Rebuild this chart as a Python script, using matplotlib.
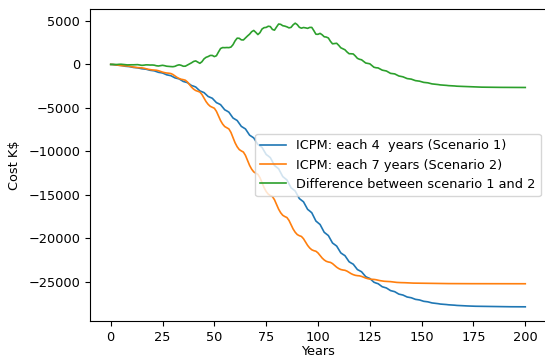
import matplotlib
matplotlib.use("Agg")
import matplotlib.pyplot as plt
import numpy as np

years = list(range(0, 201))

scenario1 = [
    0, -14, -48, -81, -95, -115, -163, -210, -230, -251,
    -300, -349, -370, -393, -445, -498, -520, -547, -610, -673,
    -700, -736, -820, -904, -940, -985, -1090, -1195, -1240, -1294,
    -1420, -1546, -1600, -1663, -1810, -1957, -2020, -2092, -2260, -2428,
    -2500, -2596, -2820, -3044, -3140, -3236, -3460, -3684, -3780, -3888,
    -4140, -4392, -4500, -4626, -4920, -5214, -5340, -5484, -5820, -6156,
    -6300, -6444, -6780, -7116, -7260, -7413, -7770, -8127, -8280, -8442,
    -8820, -9198, -9360, -9534, -9940, -10346, -10520, -10712, -11160, -11608,
    -11800, -11992, -12440, -12888, -13080, -13272, -13720, -14168, -14360, -14546,
    -14980, -15414, -15600, -15786, -16220, -16654, -16840, -17044, -17520, -17996,
    -18200, -18392, -18840, -19288, -19480, -19663, -20090, -20517, -20700, -20868,
    -21260, -21652, -21820, -21970, -22320, -22670, -22820, -22952, -23260, -23568,
    -23700, -23820, -24100, -24380, -24500, -24593, -24810, -25027, -25120, -25195,
    -25370, -25545, -25620, -25685, -25835, -25986, -26050, -26110, -26250, -26390,
    -26450, -26498, -26610, -26722, -26770, -26809, -26900, -26991, -27030, -27063,
    -27140, -27217, -27250, -27277, -27340, -27403, -27430, -27448, -27490, -27532,
    -27550, -27562, -27590, -27618, -27630, -27640, -27665, -27690, -27700, -27708,
    -27725, -27743, -27750, -27755, -27768, -27780, -27785, -27789, -27798, -27806,
    -27810, -27812, -27816, -27820, -27822, -27824, -27828, -27832, -27834, -27835,
    -27838, -27841, -27842, -27843, -27844, -27845, -27846, -27847, -27848, -27849,
    -27850,
]

scenario2 = [
    0, -8, -33, -71, -107, -135, -155, -165, -176, -208,
    -257, -305, -341, -367, -380, -394, -434, -496, -556, -601,
    -634, -650, -668, -722, -805, -884, -945, -988, -1010, -1047,
    -1158, -1328, -1491, -1617, -1706, -1750, -1817, -2016, -2322, -2615,
    -2841, -3000, -3080, -3172, -3448, -3871, -4276, -4589, -4810, -4920,
    -5038, -5392, -5935, -6454, -6855, -7138, -7280, -7413, -7812, -8424,
    -9009, -9461, -9780, -9940, -10068, -10452, -11041, -11604, -12039, -12346,
    -12500, -12628, -13012, -13601, -14164, -14599, -14906, -15060, -15181, -15544,
    -16101, -16633, -17044, -17335, -17480, -17590, -17920, -18426, -18910, -19284,
    -19548, -19680, -19766, -20024, -20420, -20798, -21090, -21297, -21400, -21465,
    -21660, -21959, -22245, -22466, -22622, -22700, -22746, -22884, -23096, -23298,
    -23454, -23565, -23620, -23653, -23750, -23900, -24043, -24153, -24231, -24270,
    -24291, -24354, -24451, -24543, -24614, -24665, -24690, -24702, -24738, -24793,
    -24846, -24887, -24916, -24930, -24937, -24958, -24990, -25021, -25045, -25062,
    -25070, -25073, -25082, -25096, -25109, -25119, -25126, -25130, -25132, -25137,
    -25145, -25153, -25159, -25163, -25165, -25166, -25168, -25172, -25175, -25178,
    -25180, -25181, -25181, -25182, -25184, -25186, -25187, -25188, -25188, -25188,
    -25189, -25190, -25191, -25191, -25192, -25192, -25192, -25193, -25193, -25194,
    -25194, -25195, -25195, -25195, -25195, -25196, -25196, -25197, -25197, -25197,
    -25197, -25198, -25198, -25198, -25199, -25199, -25199, -25199, -25200, -25200,
    -25200,
]

labels = ["ICPM: each 4  years (Scenario 1)",
          "ICPM: each 7 years (Scenario 2)",
          "Difference between scenario 1 and 2"]

s1 = np.array(scenario1, dtype=float)
s2 = np.array(scenario2, dtype=float)
diff = s1 - s2

plt.rcParams['font.size'] = 9.3

fig = plt.figure(figsize=(5.45, 3.56), dpi=100)
ax = fig.add_axes([90 / 545, 35 / 356, 456 / 545, 312 / 356])

ax.plot(years, s1, color="#1f77b4", lw=1.2, label=labels[0])
ax.plot(years, s2, color="#ff7f0e", lw=1.2, label=labels[1])
ax.plot(years, diff, color="#2ca02c", lw=1.2, label=labels[2])

ax.set_xlabel("Years", labelpad=1)
ax.set_ylabel("Cost K$", labelpad=5)
ax.legend(loc="center right", fontsize=9.3, borderaxespad=0.4)

fig.savefig("out.png", dpi=100)
